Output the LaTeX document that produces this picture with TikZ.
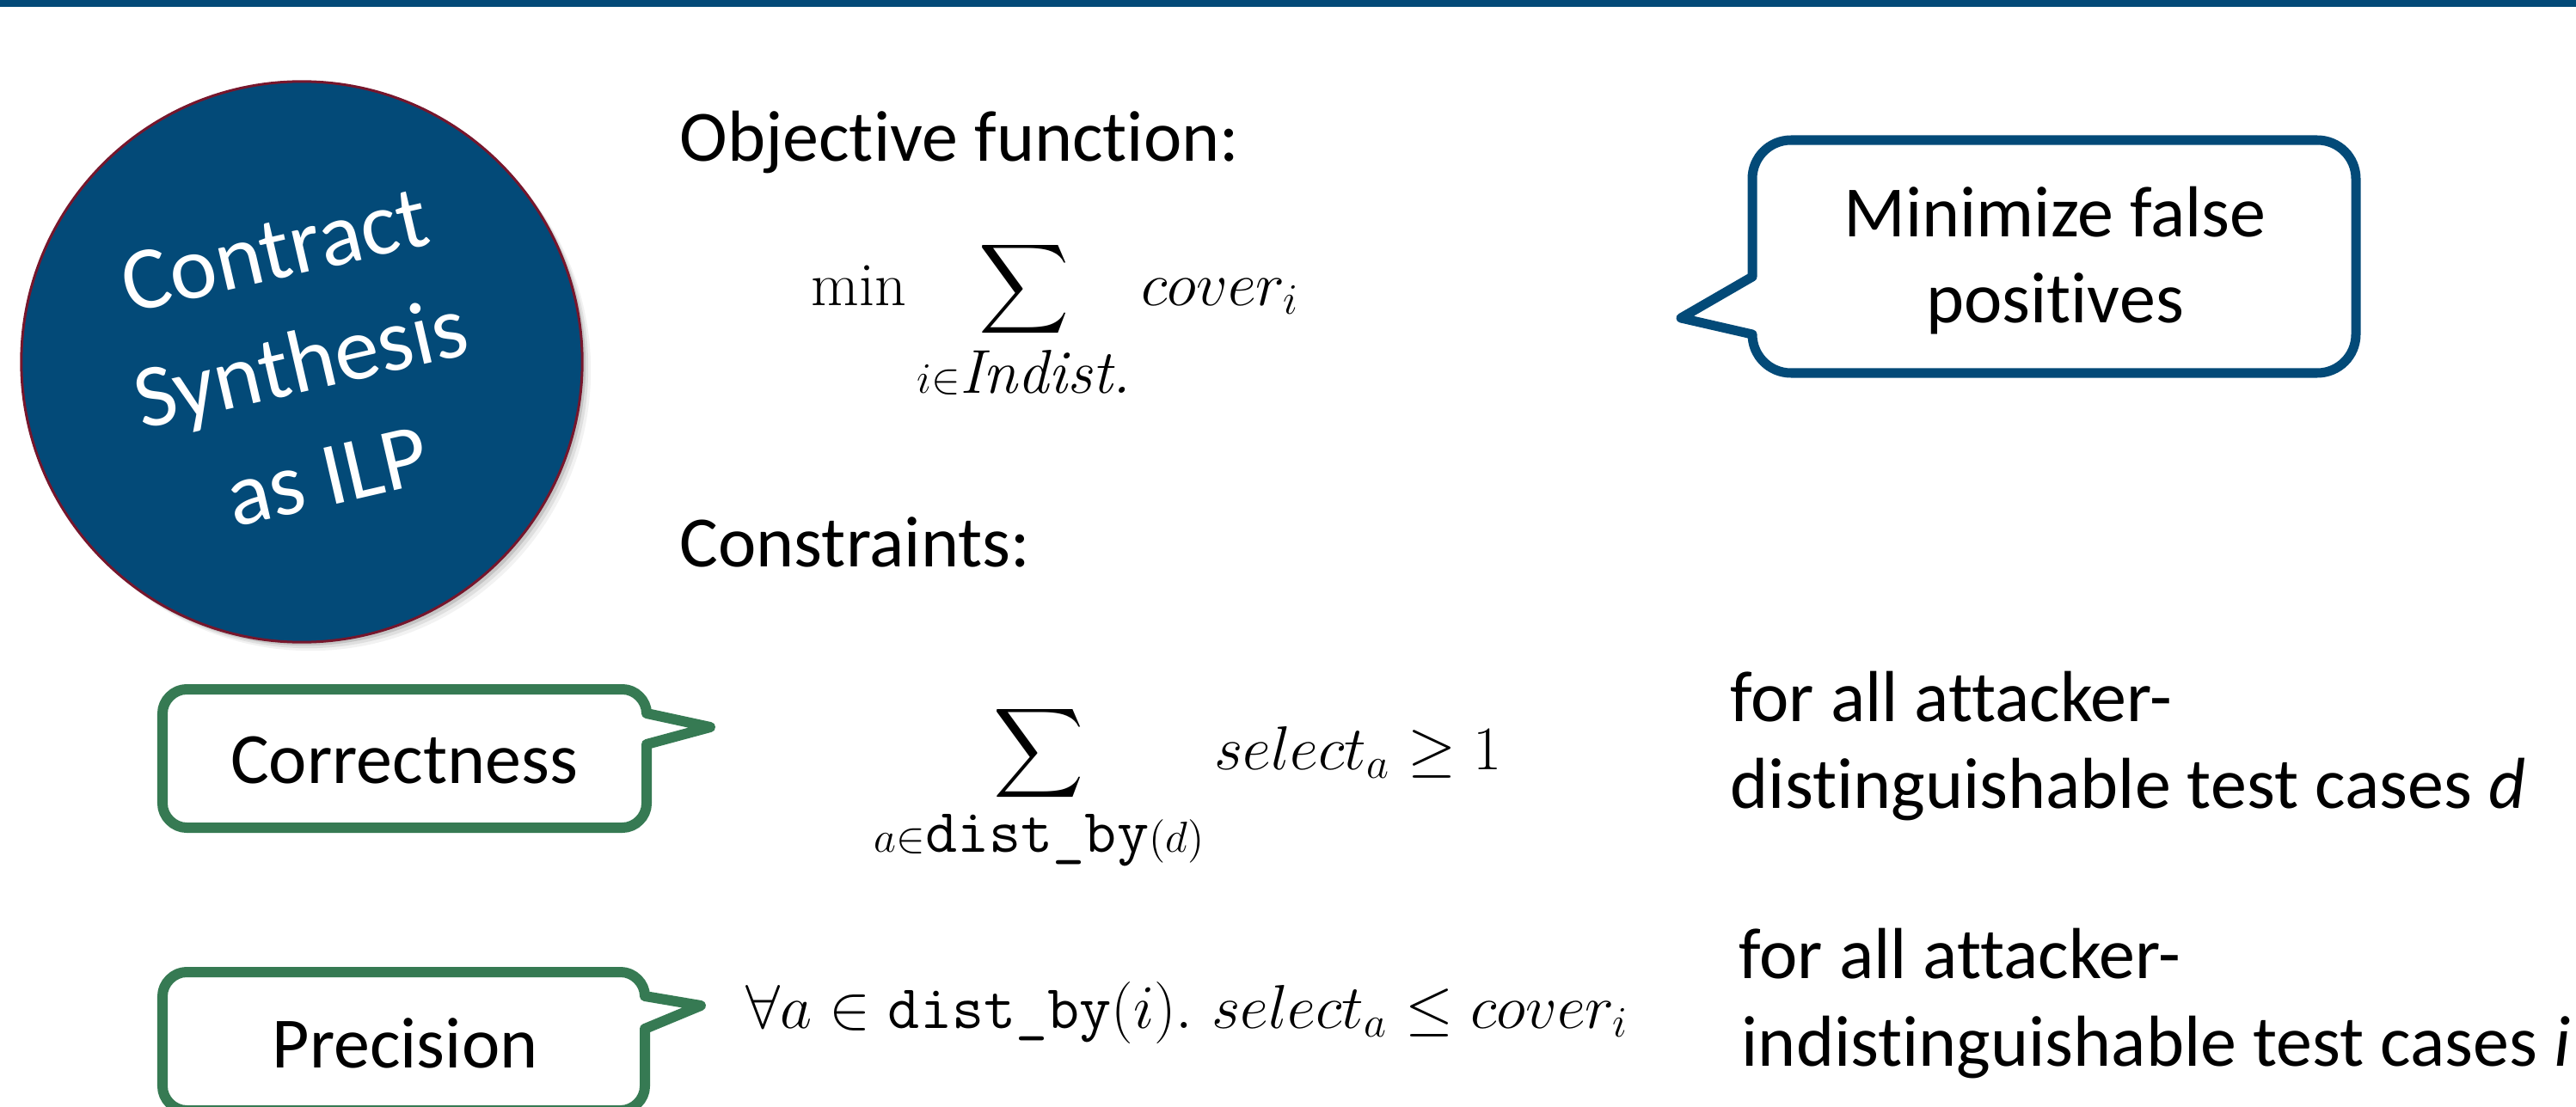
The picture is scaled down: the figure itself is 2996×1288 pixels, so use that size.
\RequirePackage{fix-cm}
\documentclass[tikz,border=0pt]{standalone}
\usepackage{amsmath}
\usepackage{fontspec}
\newfontfamily\carlito[Ligatures=NoCommon]{Carlito}
\definecolor{slideblue}{RGB}{3,74,120}
\definecolor{rimred}{RGB}{118,22,44}
\definecolor{boxgreen}{RGB}{54,122,83}
% full-size names, also when they sit inside limits
\newcommand{\distby}{\mbox{\texttt{dist\_by}}}
\newcommand{\indist}{\mbox{\textit{Indist.}}}
\tikzset{
  body/.style={font=\carlito\fontsize{23.9}{28.2}\selectfont, inner sep=0pt},
  formula/.style={font=\fontsize{20.5}{24}\selectfont, inner sep=0pt},
  bluebubble/.style={draw=slideblue, line width=0.11cm, fill=white, line join=round},
  greenbubble/.style={draw=boxgreen, line width=0.12cm, fill=white, line join=round},
}
\begin{document}
\begin{tikzpicture}[x=0.01cm, y=-0.01cm]
\useasboundingbox (0,0) rectangle (2996,1288);
% top rule
\fill[slideblue] (0,0) rectangle (2996,8);

% round title badge with a soft drop shadow
\foreach \s/\o in {10/0.05, 7/0.08, 4/0.12}
  \fill[black, opacity=\o] (351+\s,421+\s) circle[radius=3.26cm];
\node (ilp) [circle, fill=slideblue, draw=rimred, line width=0.03cm,
  minimum size=6.52cm, inner sep=0pt] at (351,421) {};
\node (ilptext) [text=white, align=center, rotate=13, inner sep=0pt,
  font=\carlito\fontsize{29.6}{38.4}\selectfont] at (350,423)
  {Contract\\Synthesis\\as ILP};

% objective
\node (objlabel) [body, anchor=base west] at (790,188) {Objective function:};
\node (objmath) [formula, anchor=base west] at (943,355)
  {$\displaystyle \min \sum_{i\in\indist} cover_i$};

% speech bubble pointing at the objective
\draw[bluebubble] (2083,163) -- (2695,163)
  .. controls (2720,163) and (2740,183) .. (2740,208) -- (2740,389)
  .. controls (2740,414) and (2720,434) .. (2695,434) -- (2083,434)
  .. controls (2058,434) and (2038,414) .. (2038,389)
  -- (1955,370) -- (2038,322) -- (2038,208)
  .. controls (2038,183) and (2058,163) .. (2083,163) -- cycle;
\node (minfpA) [body, anchor=base] at (2390,276) {Minimize false};
\node (minfpB) [body, anchor=base] at (2390,375) {positives};

% constraints
\node (conlabel) [body, anchor=base west] at (790,659) {Constraints:};

% correctness bubble
\draw[greenbubble] (217,802) -- (724,802)
  .. controls (739,802) and (752,815) .. (752,830)
  -- (826,846) -- (752,866) -- (752,935)
  .. controls (752,950) and (739,963) .. (724,963) -- (217,963)
  .. controls (202,963) and (189,950) .. (189,935) -- (189,830)
  .. controls (189,815) and (202,802) .. (217,802) -- cycle;
\node (correct) [body, anchor=base] at (470,911) {Correctness};
\node (corrmath) [formula, anchor=base west] at (1016,895)
  {$\displaystyle \sum_{a\in\distby(d)} select_a \geq 1$};
\node (corrnoteA) [body, anchor=base west] at (2012,839) {for all attacker-};
\node (corrnoteB) [body, anchor=base west] at (2012,940)
  {distinguishable test cases \textit{d}};

% precision bubble
\draw[greenbubble] (217,1131) -- (722,1131)
  .. controls (737,1131) and (750,1144) .. (750,1159)
  -- (815,1170) -- (750,1197) -- (750,1264)
  .. controls (750,1279) and (737,1292) .. (722,1292) -- (217,1292)
  .. controls (202,1292) and (189,1279) .. (189,1264) -- (189,1159)
  .. controls (189,1144) and (202,1131) .. (217,1131) -- cycle;
\node (precise) [body, anchor=base] at (471,1242) {Precision};
\node (precmath) [formula, anchor=base west] at (867,1196)
  {$\forall a \in \distby(i).\ select_a \leq cover_i$};
\node (precnoteA) [body, anchor=base west] at (2022,1138) {for all attacker-};
\node (precnoteB) [body, anchor=base west] at (2025,1240)
  {indistinguishable test cases \textit{i}};
\end{tikzpicture}
\end{document}
